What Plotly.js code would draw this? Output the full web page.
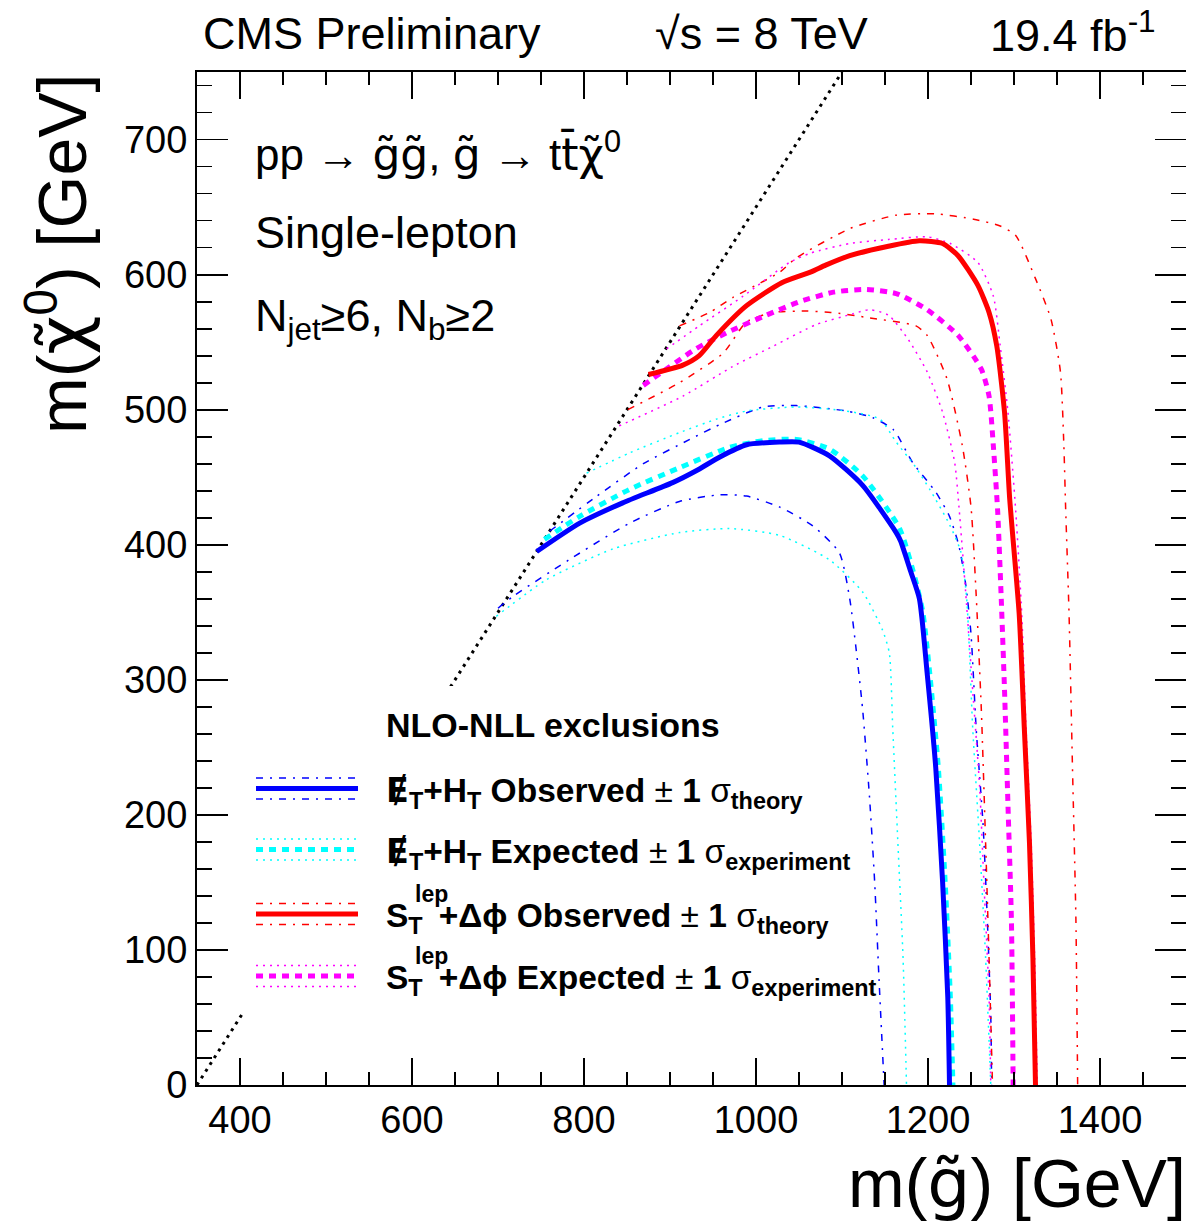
<!DOCTYPE html>
<html><head><meta charset="utf-8">
<script src="https://cdn.plot.ly/plotly-3.0.1.min.js"></script>
<style>html,body{margin:0;padding:0;background:#fff;} #chart{width:1186px;height:1225px;}</style>
</head><body><div id="chart"></div>
<script>
// kinematic limit m(chi) = m(gluino) - 2 m(top)
const diagX = [350, 1100];
const diagY = [0, 750];

// MET+HT observed and +-1 sigma theory
const htObsX = [745, 795, 845, 903, 931, 958, 989, 1027, 1050, 1085, 1124, 1163, 1168, 1180, 1190, 1199, 1209, 1217, 1223, 1225];
const htObsY = [395, 416, 431, 446, 455, 465, 474, 476, 476, 466, 444, 409, 403, 380, 360, 305, 235, 150, 65, 0];
const htObsUpX = [760, 815, 869, 923, 958, 1008, 1047, 1105, 1136, 1160, 1182, 1209, 1225, 1236, 1244, 1250, 1256, 1264, 1269, 1273, 1274];
const htObsUpY = [410, 436, 460, 478, 489, 502, 503, 499, 494, 485, 461, 439, 421, 399, 370, 334, 264, 193, 122, 51, 0];
const htObsDnX = [700, 718, 783, 853, 911, 958, 989, 1027, 1066, 1097, 1109, 1116, 1124, 1132, 1138, 1143, 1149];
const htObsDnY = [353, 362, 389, 416, 432, 437, 436, 428, 414, 394, 360, 325, 278, 213, 150, 79, 0];

// MET+HT expected and +-1 sigma experiment
const htExpX = [754, 795, 853, 911, 969, 1008, 1047, 1085, 1124, 1167, 1185, 1194, 1202, 1212, 1220, 1226, 1229];
const htExpY = [404, 421, 441, 457, 472, 477, 478, 471, 451, 412, 375, 350, 305, 235, 150, 65, 0];
const htExpUpX = [803, 853, 911, 954, 989, 1047, 1105, 1144, 1163, 1185, 1202, 1225, 1238, 1245, 1252, 1260, 1267, 1273];
const htExpUpY = [453, 468, 483, 493, 499, 502, 499, 493, 476, 458, 441, 415, 395, 360, 264, 179, 94, 0];
const htExpDnX = [698, 756, 834, 911, 969, 1027, 1085, 1124, 1147, 1155, 1159, 1165, 1171, 1175];
const htExpDnY = [347, 374, 397, 409, 412, 407, 389, 365, 337, 320, 264, 179, 94, 0];

// S_T^lep + dphi observed and +-1 sigma theory
const stObsX = [875, 915, 934, 954, 989, 1030, 1064, 1081, 1109, 1154, 1190, 1217, 1235, 1258, 1271, 1280, 1289, 1295, 1306, 1312, 1318, 1322, 1325];
const stObsY = [526, 533, 540, 555, 577, 594, 602, 607, 614, 621, 625, 623, 614, 592, 572, 547, 498, 434, 349, 264, 179, 94, 0];
const stObsUpX = [911, 946, 973, 1028, 1046, 1109, 1163, 1208, 1253, 1284, 1302, 1325, 1343, 1354, 1358, 1360, 1364, 1368, 1372, 1374];
const stObsUpY = [562, 572, 583, 602, 612, 634, 644, 645, 641, 636, 629, 597, 567, 528, 473, 428, 349, 235, 122, 0];
const stObsDnX = [851, 911, 962, 989, 1020, 1058, 1087, 1132, 1186, 1199, 1222, 1240, 1250, 1256, 1262, 1267, 1271, 1275];
const stObsDnY = [500, 520, 542, 565, 572, 573, 572, 568, 562, 555, 523, 473, 428, 363, 278, 179, 94, 0];

// S_T^lep + dphi expected and +-1 sigma experiment
const stExpX = [869, 930, 966, 1012, 1051, 1090, 1127, 1163, 1199, 1235, 1262, 1271, 1276, 1281, 1285, 1289, 1293, 1297, 1299];
const stExpY = [518, 545, 557, 570, 580, 587, 589, 586, 574, 555, 530, 510, 473, 425, 363, 292, 207, 122, 0];
const stExpUpX = [896, 934, 985, 1039, 1064, 1109, 1154, 1199, 1226, 1258, 1276, 1284, 1293, 1302, 1309, 1314, 1320, 1324, 1327];
const stExpUpY = [545, 562, 584, 609, 616, 623, 626, 628, 623, 609, 584, 547, 498, 425, 349, 264, 179, 94, 0];
const stExpDnX = [841, 915, 973, 1020, 1070, 1113, 1132, 1154, 1177, 1199, 1217, 1231, 1236, 1244, 1252, 1260, 1265, 1271, 1273];
const stExpDnY = [488, 510, 532, 547, 563, 571, 574, 570, 552, 528, 498, 461, 428, 363, 292, 221, 150, 65, 0];

const BLUE = '#0000ff', CYAN = '#00ffff', RED = '#ff0000', MAG = '#ff00ff';
const DASHDOT = '7px,7px,2px,7px';
const DOT = '2px,5px';
const THICKDASH = '7px,6px';

function tr(x, y, color, width, dash) {
  return {x: x, y: y, type: 'scatter', mode: 'lines', showlegend: false, hoverinfo: 'skip',
    line: {color: color, width: width, dash: dash, shape: 'spline', smoothing: 0.6}};
}

const traces = [
  tr(diagX, diagY, '#000000', 3, '3px,5px'),
  tr(htObsUpX, htObsUpY, BLUE, 1.5, DASHDOT),
  tr(htObsDnX, htObsDnY, BLUE, 1.5, DASHDOT),
  tr(htExpUpX, htExpUpY, CYAN, 1.5, DOT),
  tr(htExpDnX, htExpDnY, CYAN, 1.5, DOT),
  tr(stObsUpX, stObsUpY, RED, 1.5, DASHDOT),
  tr(stObsDnX, stObsDnY, RED, 1.5, DASHDOT),
  tr(stExpUpX, stExpUpY, MAG, 1.5, DOT),
  tr(stExpDnX, stExpDnY, MAG, 1.5, DOT),
  tr(htExpX, htExpY, CYAN, 5, THICKDASH),
  tr(htObsX, htObsY, BLUE, 5, 'solid'),
  tr(stExpX, stExpY, MAG, 5, THICKDASH),
  tr(stObsX, stObsY, RED, 5, 'solid')
];

const L = 197, T = 72, W = 989, H = 1013;
const px = v => (v - L) / W;
const py = v => (T + H - v) / H;
const FONT = 'Liberation Sans, Arial, Helvetica, sans-serif';
const DJ = s => '<span style="font-family:\'DejaVu Sans\'">' + s + '</span>';
const CHI = DJ('χ\u0303');
const GLU = DJ('g\u0303');
const MET = DJ('Ɇ');

const legendEntries = [
  {y: 788.5, color: BLUE, mainDash: 'solid', thinDash: 'dashdot', lep: false,
   text: '<b>' + MET + '<sub>T</sub>+H<sub>T</sub> Observed</b> ± <b>1</b> σ<sub><b>theory</b></sub>'},
  {y: 849.5, color: CYAN, mainDash: 'dash', thinDash: 'dot', lep: false,
   text: '<b>' + MET + '<sub>T</sub>+H<sub>T</sub> Expected</b> ± <b>1</b> σ<sub><b>experiment</b></sub>'},
  {y: 914, color: RED, mainDash: 'solid', thinDash: 'dashdot', lep: true,
   text: '<b>S<sub>T</sub> \u2009+Δϕ Observed</b> ± <b>1</b> σ<sub><b>theory</b></sub>'},
  {y: 976, color: MAG, mainDash: 'dash', thinDash: 'dot', lep: true,
   text: '<b>S<sub>T</sub> \u2009+Δϕ Expected</b> ± <b>1</b> σ<sub><b>experiment</b></sub>'}
];

const shapes = [
  {type: 'rect', xref: 'paper', yref: 'paper', x0: px(238), x1: px(462), y0: py(1014), y1: py(686),
   fillcolor: '#ffffff', line: {width: 0}, layer: 'above'}
];
const annotations = [];
legendEntries.forEach(e => {
  shapes.push({type: 'line', xref: 'paper', yref: 'paper', x0: px(256), x1: px(358), y0: py(e.y), y1: py(e.y),
    line: {color: e.color, width: 5, dash: e.mainDash === 'dash' ? THICKDASH : 'solid'}, layer: 'above'});
  [-10.5, 10.5].forEach(d => {
    shapes.push({type: 'line', xref: 'paper', yref: 'paper', x0: px(256), x1: px(358), y0: py(e.y + d), y1: py(e.y + d),
      line: {color: e.color, width: 1.5, dash: e.thinDash === 'dot' ? DOT : DASHDOT}, layer: 'above'});
  });
  annotations.push({xref: 'paper', yref: 'paper', x: px(384), y: py(e.y + 4), xanchor: 'left', yanchor: 'middle',
    showarrow: false, text: e.text, font: {family: FONT, size: 33.5, color: '#000'}});
  if (e.lep) {
    annotations.push({xref: 'paper', yref: 'paper', x: px(413), y: py(e.y - 20), xanchor: 'left', yanchor: 'middle',
      showarrow: false, text: '<b>lep</b>', font: {family: FONT, size: 23, color: '#000'}});
  }
});

annotations.push(
  {xref: 'paper', yref: 'paper', x: px(384), y: py(725), xanchor: 'left', yanchor: 'middle', showarrow: false,
   text: '<b>NLO-NLL exclusions</b>', font: {family: FONT, size: 34, color: '#000'}},
  {xref: 'paper', yref: 'paper', x: px(201), y: py(34), xanchor: 'left', yanchor: 'middle', showarrow: false,
   text: 'CMS Preliminary', font: {family: FONT, size: 45, color: '#000'}},
  {xref: 'paper', yref: 'paper', x: px(653), y: py(34), xanchor: 'left', yanchor: 'middle', showarrow: false,
   text: '√s = 8 TeV', font: {family: FONT, size: 45, color: '#000'}},
  {xref: 'paper', yref: 'paper', x: px(988), y: py(32), xanchor: 'left', yanchor: 'middle', showarrow: false,
   text: '19.4 fb<sup>-1</sup>', font: {family: FONT, size: 45, color: '#000'}},
  {xref: 'paper', yref: 'paper', x: px(253), y: py(152), xanchor: 'left', yanchor: 'middle', showarrow: false,
   text: 'pp → ' + GLU + GLU + ', ' + GLU + ' → t' + DJ('t\u0304') + CHI + '<sup>0</sup>', font: {family: FONT, size: 44, color: '#000'}},
  {xref: 'paper', yref: 'paper', x: px(253), y: py(232), xanchor: 'left', yanchor: 'middle', showarrow: false,
   text: 'Single-lepton', font: {family: FONT, size: 45, color: '#000'}},
  {xref: 'paper', yref: 'paper', x: px(253), y: py(318), xanchor: 'left', yanchor: 'middle', showarrow: false,
   text: 'N<sub>jet</sub>≥6, N<sub>b</sub>≥2', font: {family: FONT, size: 45, color: '#000'}},
  {xref: 'paper', yref: 'paper', x: px(1188), y: py(1183), xanchor: 'right', yanchor: 'middle', showarrow: false,
   text: 'm(' + GLU + ') [GeV]', font: {family: FONT, size: 68, color: '#000'}},
  {xref: 'paper', yref: 'paper', x: px(58), y: py(72), xanchor: 'center', yanchor: 'top', showarrow: false,
   textangle: -90, text: 'm(' + CHI + '<sup>0</sup>) [GeV]', font: {family: FONT, size: 68, color: '#000'}}
);

const axisCommon = {
  showline: true, linecolor: '#000', linewidth: 2, mirror: 'allticks',
  ticks: 'inside', tickcolor: '#000', tickwidth: 1.8,
  showgrid: false, zeroline: false,
  tickfont: {family: FONT, size: 38, color: '#000'}
};

const layout = {
  width: 1186, height: 1225,
  margin: {l: L, r: 1186 - L - W, t: T, b: 1225 - T - H},
  paper_bgcolor: '#fff', plot_bgcolor: '#fff',
  showlegend: false,
  xaxis: Object.assign({}, axisCommon, {range: [350, 1500], dtick: 200, tick0: 0, ticklen: 27,
    minor: {dtick: 50, ticklen: 13, ticks: 'inside', tickcolor: '#000', tickwidth: 1.8, showgrid: false}}),
  yaxis: Object.assign({}, axisCommon, {range: [0, 750], dtick: 100, tick0: 0, ticklen: 31,
    minor: {dtick: 20, ticklen: 15, ticks: 'inside', tickcolor: '#000', tickwidth: 1.8, showgrid: false}}),
  shapes: shapes,
  annotations: annotations
};

Plotly.newPlot('chart', traces, layout, {displayModeBar: false, staticPlot: true});
</script>
</body></html>
